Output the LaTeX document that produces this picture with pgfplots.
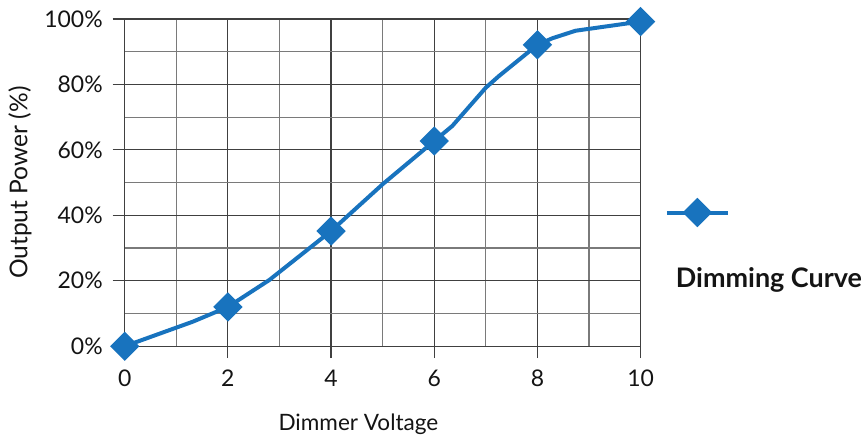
\documentclass[border=0pt]{standalone}
\usepackage{fontspec}
\setmainfont{Lato}
\usepackage{pgfplots}
\pgfplotsset{compat=1.18}
\usetikzlibrary{calc}
\definecolor{curveblue}{HTML}{1873BE}
\definecolor{gridmajor}{HTML}{404040}
\definecolor{gridminor}{HTML}{7A7A7A}
\definecolor{txt}{HTML}{141414}

\begin{document}
\begin{tikzpicture}[font=\fontsize{11.5}{13}\selectfont, text=txt]
\begin{axis}[
  name=ax,
  scale only axis,
  width=258.5pt, height=164pt,
  xmin=0, xmax=10, ymin=0, ymax=100,
  xtick={0,2,...,10},
  ytick={0,20,...,100},
  yticklabels={0\%,20\%,40\%,60\%,80\%,100\%},
  minor x tick num=1, minor y tick num=1,
  grid=both,
  major grid style={gridmajor, line width=0.6pt},
  minor grid style={gridminor, line width=0.6pt},
  minor tick length=0pt,
  major tick length=6pt,
  tick align=outside,
  tick pos=left,
  tick style={gridmajor, line width=0.6pt},
  axis line style={gridmajor, line width=0.6pt},
  /pgf/number format/assume math mode=true,
  yticklabel style={xshift=-1.5pt},
  xticklabel style={yshift=-2.5pt},
  xlabel={Dimmer Voltage},
  ylabel={Output Power (\%)},
  xlabel style={at={(axis description cs:0.453,-0.238)}, anchor=center, font=\fontsize{11.3}{13}\selectfont},
  ylabel style={at={(axis description cs:-0.203,0.5)}, anchor=center, font=\fontsize{12.3}{14}\selectfont},
  clip=false,
  legend style={at={(axis description cs:1.112,0.4085)}, anchor=center,
    draw=none, fill=none, inner sep=0pt, nodes={inner sep=0pt}},
  legend image code/.code={\draw[#1] plot coordinates {(0pt,0pt) (15.25pt,0pt) (30.5pt,0pt)};},
]
% dimming curve, markers at the whole-volt even points
\addplot[curveblue, line width=2pt, mark=square*, mark size=4.2pt,
  mark options={rotate=45, solid}, mark indices={1,3,5,7,11,14}, forget plot]
  coordinates {
  (0,0) (1.32,7.5) (2,12) (2.8,20.2) (4,35.2) (5,49.5) (6,62.7)
  (6.35,67.3) (7.0,79) (7.25,82.5) (8,92.1) (8.29,94.1) (8.74,96.4) (10,99.2)
};
\addlegendimage{curveblue, line width=2pt, mark=square*, mark size=4.2pt,
  mark options={rotate=45, solid}, mark repeat=2, mark phase=2}
\addlegendentry{}
\node[anchor=west, inner sep=0pt, font=\bfseries\fontsize{13.5}{15}\selectfont]
  at (axis description cs:1.0677,0.2012) {Dimming Curve};
\end{axis}
\path (ax.south west) ++(-62.5pt,-47pt) rectangle ($(ax.north east)+(110pt,9.5pt)$);
\end{tikzpicture}
\end{document}
